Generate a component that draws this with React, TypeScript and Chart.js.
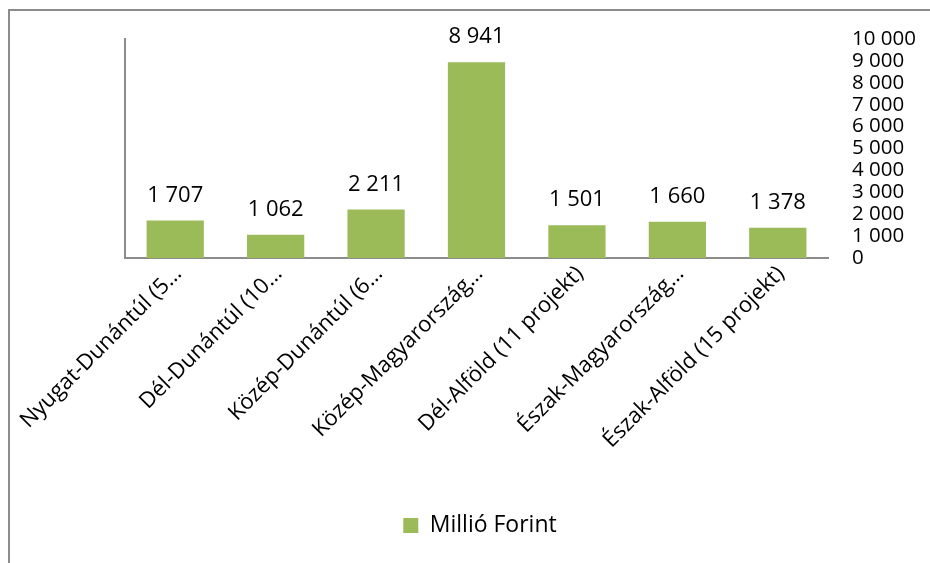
import React, { useEffect, useRef } from "react";
import { Chart, registerables } from "chart.js";

Chart.register(...registerables);

const categories = [
  "Nyugat-Dunántúl (5…",
  "Dél-Dunántúl (10…",
  "Közép-Dunántúl (6…",
  "Közép-Magyarország…",
  "Dél-Alföld (11 projekt)",
  "Észak-Magyarország…",
  "Észak-Alföld (15 projekt)",
];
const values = [1707, 1062, 2211, 8941, 1501, 1660, 1378];
const seriesName = "Millió Forint";
const yMin = 0;
const yMax = 10000;
const yStep = 1000;

const FONT = "'Open Sans', Lato, sans-serif";
const GREEN = "#9BBB59";
const AXIS = "#8c8c8c";

const fmt = (v: number) => String(v).replace(/\B(?=(\d{3})+(?!\d))/g, " ");

const dataLabels = {
  id: "dataLabels",
  afterDatasetsDraw(chart: any) {
    const ctx = chart.ctx;
    const meta = chart.getDatasetMeta(0);
    ctx.save();
    ctx.font = `22px ${FONT}`;
    ctx.fillStyle = "#000";
    ctx.textAlign = "center";
    ctx.textBaseline = "middle";
    meta.data.forEach((el: any, i: number) => {
      ctx.fillText(fmt(values[i]), el.x, el.y - 25);
    });
    ctx.restore();
  },
};

export default function App() {
  const ref = useRef<HTMLCanvasElement | null>(null);
  useEffect(() => {
    document.body.style.overflow = "hidden";
    const chart = new Chart(ref.current as HTMLCanvasElement, {
      type: "bar",
      data: {
        labels: categories,
        datasets: [
          {
            label: seriesName,
            data: values,
            backgroundColor: GREEN,
            borderWidth: 0,
            barPercentage: 0.57,
            categoryPercentage: 1,
            yAxisID: "y",
          },
        ],
      },
      options: {
        responsive: true,
        maintainAspectRatio: false,
        animation: false,
        layout: { padding: { left: 30, right: 0, top: 39, bottom: 16 } },
        plugins: {
          tooltip: { enabled: false },
          legend: {
            position: "bottom",
            labels: {
              font: { family: FONT, size: 23 },
              color: "#000",
              boxWidth: 15,
              boxHeight: 15,
              padding: 10,
            },
          },
        },
        scales: {
          x: {
            offset: true,
            grid: { display: false, drawTicks: false },
            border: { display: true, color: AXIS, width: 2 },
            ticks: {
              autoSkip: false,
              maxRotation: 45,
              minRotation: 45,
              padding: 3,
              labelOffset: 3,
              color: "#000",
              font: { family: FONT, size: 22 },
            },
            afterFit: (s: any) => {
              s.height = 246;
            },
          },
          y2: {
            position: "left",
            min: yMin,
            max: yMax,
            grid: { display: false, drawTicks: false },
            border: { display: true, color: AXIS, width: 2 },
            ticks: { display: false },
            afterFit: (s: any) => {
              s.width = 95;
            },
          },
          y: {
            position: "right",
            min: yMin,
            max: yMax,
            grid: { display: false, drawTicks: false },
            border: { display: false },
            ticks: {
              stepSize: yStep,
              autoSkip: false,
              padding: 24,
              color: "#000",
              font: { family: FONT, size: 20.5 },
              callback: (v: any) => fmt(Number(v)),
            },
            afterFit: (s: any) => {
              s.width = 102;
            },
          },
        },
      },
      plugins: [dataLabels],
    });
    return () => chart.destroy();
  }, []);

  return (
    <div
      style={{
        position: "fixed",
        left: 0,
        top: 0,
        width: 930,
        height: 563,
        background: "#fff",
        overflow: "hidden",
      }}
    >
      <div
        style={{
          position: "absolute",
          left: 8,
          top: 9,
          width: 1000,
          height: 1000,
          borderLeft: `2px solid ${AXIS}`,
          borderTop: `2px solid ${AXIS}`,
        }}
      />
      <div style={{ position: "absolute", left: 0, top: 0, width: 930, height: 563 }}>
        <canvas ref={ref} />
      </div>
    </div>
  );
}
